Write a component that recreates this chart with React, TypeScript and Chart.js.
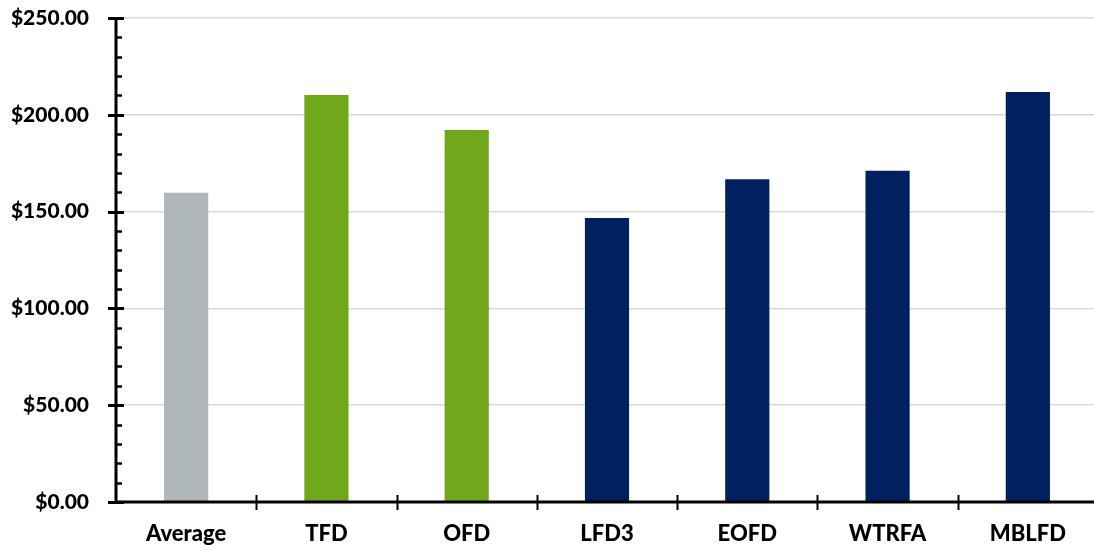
import React, { useEffect, useRef } from "react";
import { Chart, registerables } from "chart.js";

Chart.register(...registerables);

const categories = ["Average", "TFD", "OFD", "LFD3", "EOFD", "WTRFA", "MBLFD"];
const values = [159.7, 210.2, 192.1, 146.7, 166.7, 171.1, 211.8];
const barColors = ["#b0b7ba", "#71a71a", "#71a71a", "#002060", "#002060", "#002060", "#002060"];
const yMin = 0;
const yMax = 250;
const yMajorStep = 50;
const yMinorStep = 10;

const W = 1098;
const H = 550;

const axisPlugin = {
  id: "excelAxes",
  afterDraw(chart: any) {
    const ctx = chart.ctx;
    const ys = chart.scales.y;
    const xs = chart.scales.x;
    const left = chart.chartArea.left;
    const right = chart.chartArea.right;
    const top = ys.getPixelForValue(yMax);
    const bottom = ys.getPixelForValue(yMin);
    ctx.save();
    ctx.strokeStyle = "#000000";
    ctx.lineWidth = 2.5;
    for (let v = yMin; v <= yMax; v += yMinorStep) {
      if (v % yMajorStep === 0) continue;
      const y = Math.round(ys.getPixelForValue(v)) + 0.5;
      ctx.beginPath();
      ctx.moveTo(left, y);
      ctx.lineTo(left + 6, y);
      ctx.stroke();
    }
    ctx.lineWidth = 3;
    for (let v = yMin; v <= yMax; v += yMajorStep) {
      const y = Math.round(ys.getPixelForValue(v)) + 0.5;
      ctx.beginPath();
      ctx.moveTo(left - 8, y);
      ctx.lineTo(left + 8, y);
      ctx.stroke();
    }
    ctx.lineWidth = 2;
    for (let i = 0; i < categories.length - 1; i++) {
      const x = Math.round((xs.getPixelForValue(i) + xs.getPixelForValue(i + 1)) / 2) + 0.5;
      ctx.beginPath();
      ctx.moveTo(x, bottom - 7);
      ctx.lineTo(x, bottom + 8);
      ctx.stroke();
    }
    ctx.lineWidth = 3;
    ctx.beginPath();
    ctx.moveTo(left, top - 1);
    ctx.lineTo(left, bottom + 1);
    ctx.stroke();
    ctx.beginPath();
    ctx.moveTo(left - 1, bottom);
    ctx.lineTo(right, bottom);
    ctx.stroke();
    ctx.restore();
  },
};

export default function App() {
  const ref = useRef<HTMLCanvasElement>(null);
  useEffect(() => {
    if (!ref.current) return;
    const chart = new Chart(ref.current, {
      type: "bar",
      data: {
        labels: categories,
        datasets: [
          {
            data: values,
            backgroundColor: barColors,
            borderWidth: 0,
            categoryPercentage: 1,
            barPercentage: 0.315,
          },
        ],
      },
      options: {
        responsive: false,
        animation: false,
        devicePixelRatio: 1,
        layout: { padding: { top: 18, right: 0, left: 0, bottom: 0 } },
        plugins: { legend: { display: false }, tooltip: { enabled: false } },
        scales: {
          x: {
            grid: { display: false, drawTicks: false },
            border: { display: false },
            ticks: {
              color: "#000000",
              padding: 19,
              font: { family: "Lato", size: 22, weight: "900" },
            },
            afterFit: (s: any) => {
              s.height = 48;
              s.paddingLeft = 0;
              s.paddingRight = 0;
            },
          },
          y: {
            min: yMin,
            max: yMax,
            ticks: {
              stepSize: yMajorStep,
              color: "#000000",
              padding: 27,
              font: { family: "Lato", size: 21, weight: "900" },
              callback: (v: any) => "$" + Number(v).toFixed(2),
            },
            grid: { color: "#d9d9d9", lineWidth: 1.5, drawTicks: false },
            border: { display: false },
            afterFit: (s: any) => {
              s.width = 116;
              s.paddingTop = 0;
              s.paddingBottom = 0;
            },
          },
        },
      },
      plugins: [axisPlugin],
    });
    return () => chart.destroy();
  }, []);
  return (
    <div style={{ position: "fixed", left: 0, top: 0, width: 1094, height: 550, overflow: "hidden", background: "#ffffff" }}>
      <canvas ref={ref} width={W} height={H} style={{ display: "block" }} />
    </div>
  );
}
